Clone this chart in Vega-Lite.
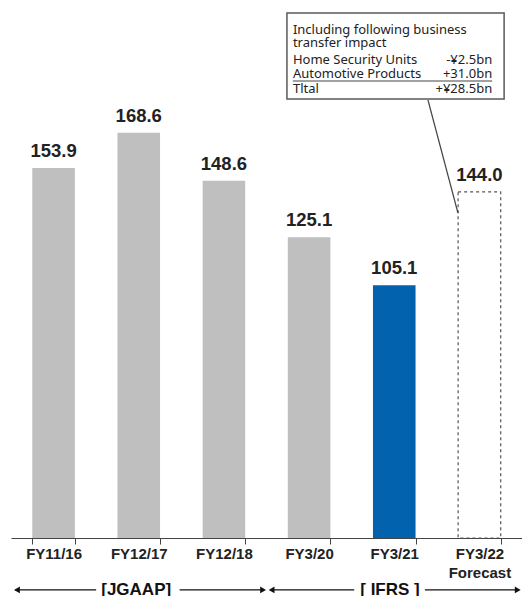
{
  "$schema": "https://vega.github.io/schema/vega-lite/v6.json",
  "autosize": "none",
  "width": 511,
  "height": 538,
  "padding": {"left": 11, "top": 0, "right": 0, "bottom": 58},
  "background": "white",
  "config": {"view": {"stroke": null}, "font": "Liberation Sans"},
  "datasets": {
    "bars": [
      {"fy": "FY11/16", "value": 153.9, "kind": "actual"},
      {"fy": "FY12/17", "value": 168.6, "kind": "actual"},
      {"fy": "FY12/18", "value": 148.6, "kind": "actual"},
      {"fy": "FY3/20", "value": 125.1, "kind": "actual"},
      {"fy": "FY3/21", "value": 105.1, "kind": "current"},
      {"fy": "FY3/22", "value": 144.0, "kind": "forecast"}
    ],
    "arrowLines": [
      {"grp": "JGAAP", "a": 0.05, "b": 1.0},
      {"grp": "JGAAP", "a": 1.98, "b": 2.97},
      {"grp": "IFRS", "a": 3.05, "b": 4.03},
      {"grp": "IFRS", "a": 4.86, "b": 5.95}
    ],
    "arrowHeads": [
      {"dir": "left", "p": 0.07},
      {"dir": "right", "p": 2.96},
      {"dir": "left", "p": 3.06},
      {"dir": "right", "p": 5.95}
    ],
    "arrowTexts": [
      {"label": "[JGAAP]", "p": 1.47},
      {"label": "[ IFRS ]", "p": 4.45}
    ],
    "noteBox": [{"x1": 3.24, "x2": 5.79, "y1": 182.6, "y2": 218.4}],
    "noteLeft": [
      {"t": "Including following business", "p": 3.31, "q": 211.3},
      {"t": "transfer impact", "p": 3.31, "q": 205.9},
      {"t": "Home Security Units", "p": 3.31, "q": 198.8},
      {"t": "Automotive Products", "p": 3.31, "q": 193.0},
      {"t": "Tltal", "p": 3.31, "q": 186.8}
    ],
    "noteRight": [
      {"t": "-¥2.5bn", "p": 5.65, "q": 198.8},
      {"t": "+31.0bn", "p": 5.65, "q": 193.0},
      {"t": "+¥28.5bn", "p": 5.65, "q": 186.8}
    ],
    "noteLines": [
      {"p1": 3.31, "p2": 5.65, "q1": 190.1, "q2": 190.1},
      {"p1": 4.896, "p2": 5.248, "q1": 182.2, "q2": 135.2}
    ]
  },
  "layer": [
    {
      "encoding": {
        "x": {
          "field": "fy",
          "type": "nominal",
          "sort": null,
          "scale": {
            "domain": ["FY11/16", "FY12/17", "FY12/18", "FY3/20", "FY3/21", "FY3/22"],
            "paddingInner": 0.5,
            "paddingOuter": 0.25
          },
          "axis": {
            "title": null,
            "labelAngle": 0,
            "labelFont": "Liberation Sans",
            "labelFontSize": 15,
            "labelFontWeight": "bold",
            "labelColor": "#222222",
            "domainColor": "#444444",
            "tickColor": "#444444",
            "tickBand": "extent",
            "tickSize": 6,
            "labelPadding": 2,
            "labelBaseline": "top",
            "labelLineHeight": 19,
            "labelExpr": "datum.value == 'FY3/22' ? ['FY3/22', 'Forecast'] : datum.label"
          }
        },
        "y": {
          "field": "value",
          "type": "quantitative",
          "scale": {"domain": [0, 223.8], "nice": false},
          "axis": null
        }
      },
      "layer": [
        {
          "data": {"name": "bars"},
          "transform": [{"filter": "datum.kind != 'forecast'"}],
          "mark": {"type": "bar"},
          "encoding": {
            "fill": {
              "field": "kind",
              "type": "nominal",
              "scale": {"domain": ["actual", "current"], "range": ["#BFBFBF", "#0262AE"]},
              "legend": null
            }
          }
        },
        {
          "data": {"name": "bars"},
          "transform": [{"filter": "datum.kind == 'forecast'"}],
          "mark": {"type": "bar", "fill": "white", "stroke": "#555555", "strokeWidth": 1.2, "strokeDash": [3, 3]}
        },
        {
          "data": {"name": "bars"},
          "mark": {"type": "text", "baseline": "alphabetic", "dy": -11, "fontSize": 18.5, "fontWeight": "bold", "color": "#222222", "font": "Liberation Sans"},
          "encoding": {"text": {"field": "value", "type": "quantitative", "format": ".1f"}}
        }
      ]
    },
    {
      "layer": [
        {
          "data": {"name": "arrowLines"},
          "mark": {"type": "rule", "color": "#111111", "strokeWidth": 1.3},
          "encoding": {
            "x": {"field": "a", "type": "quantitative", "scale": {"domain": [0, 6], "nice": false, "zero": false}, "axis": null},
            "x2": {"field": "b"},
            "y": {"datum": -21.6, "type": "quantitative"}
          }
        },
        {
          "data": {"name": "arrowHeads"},
          "mark": {"type": "point", "filled": true, "size": 45, "color": "#111111", "opacity": 1},
          "encoding": {
            "x": {"field": "p", "type": "quantitative", "scale": {"domain": [0, 6], "nice": false, "zero": false}, "axis": null},
            "y": {"datum": -21.6, "type": "quantitative"},
            "shape": {"field": "dir", "type": "nominal", "scale": {"domain": ["left", "right"], "range": ["triangle-left", "triangle-right"]}, "legend": null}
          }
        },
        {
          "data": {"name": "arrowTexts"},
          "mark": {"type": "text", "fontSize": 17, "fontWeight": "bold", "color": "#111111", "baseline": "middle", "font": "Liberation Sans"},
          "encoding": {
            "x": {"field": "p", "type": "quantitative", "scale": {"domain": [0, 6], "nice": false, "zero": false}, "axis": null},
            "y": {"datum": -21.6, "type": "quantitative"},
            "text": {"field": "label"}
          }
        },
        {
          "data": {"name": "noteBox"},
          "mark": {"type": "rect", "fill": "white", "stroke": "#595959", "strokeWidth": 1.5},
          "encoding": {
            "x": {"field": "x1", "type": "quantitative", "scale": {"domain": [0, 6], "nice": false, "zero": false}, "axis": null},
            "x2": {"field": "x2"},
            "y": {"field": "y1", "type": "quantitative"},
            "y2": {"field": "y2"}
          }
        },
        {
          "data": {"name": "noteLeft"},
          "mark": {"type": "text", "align": "left", "baseline": "middle", "fontSize": 13, "font": "Noto Sans", "color": "#222222"},
          "encoding": {
            "x": {"field": "p", "type": "quantitative", "scale": {"domain": [0, 6], "nice": false, "zero": false}, "axis": null},
            "y": {"field": "q", "type": "quantitative"},
            "text": {"field": "t"}
          }
        },
        {
          "data": {"name": "noteRight"},
          "mark": {"type": "text", "align": "right", "baseline": "middle", "fontSize": 13, "font": "Noto Sans", "color": "#222222"},
          "encoding": {
            "x": {"field": "p", "type": "quantitative", "scale": {"domain": [0, 6], "nice": false, "zero": false}, "axis": null},
            "y": {"field": "q", "type": "quantitative"},
            "text": {"field": "t"}
          }
        },
        {
          "data": {"name": "noteLines"},
          "mark": {"type": "rule", "color": "#444444", "strokeWidth": 1.2},
          "encoding": {
            "x": {"field": "p1", "type": "quantitative", "scale": {"domain": [0, 6], "nice": false, "zero": false}, "axis": null},
            "x2": {"field": "p2"},
            "y": {"field": "q1", "type": "quantitative"},
            "y2": {"field": "q2"}
          }
        }
      ]
    }
  ],
  "resolve": {"scale": {"x": "independent"}}
}
